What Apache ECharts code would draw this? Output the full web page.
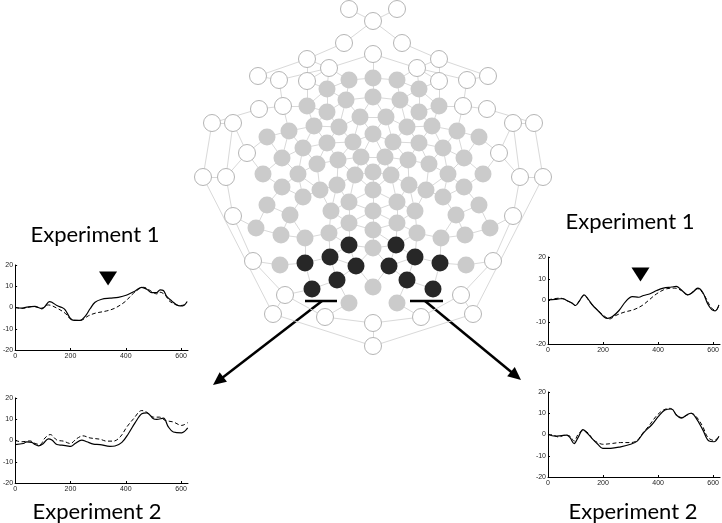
<!DOCTYPE html>
<html><head><meta charset="utf-8">
<script src="https://cdn.jsdelivr.net/npm/echarts@6/dist/echarts.min.js"></script>
<style>html,body{margin:0;padding:0;background:#fff}#c{width:722px;height:523px}</style>
</head><body><div id="c"></div>
<script>
// ---------- electrode map (image-pixel coordinates) ----------
const openX = [349,397,373,344,402,373,307,439,329,417,258,488,279,467,307,439,259,487,283,463,212,534,233,513,247,499,203,543,226,520,233,513,253,493,285,461,273,473,325,421,373,373];
const openY = [9,9,21,43,43,54,59,59,68,68,76,76,80,80,81,81,109,109,106,106,123,123,123,123,153,153,177,177,177,177,216,216,261,261,295,295,314,314,317,317,323,346];
const grayX = [349,373,397,327,419,346,373,400,307,439,327,419,360,386,
  267,289,314,339,373,407,432,457,479,282,303,327,353,393,419,443,464,
  317,338,361,385,408,429,263,298,355,373,391,448,483,337,409,
  282,320,373,426,464,303,443,349,397,267,479,331,373,415,290,456,
  349,397,256,490,373,329,417,281,465,305,441,373,280,466,373,349,397];
const grayY = [80,78,80,89,89,100,97,100,106,106,112,112,117,117,
  137,131,126,127,134,127,126,131,137,158,148,143,142,142,143,148,158,
  164,160,157,157,160,164,174,174,175,172,175,174,174,185,185,
  187,190,190,190,187,197,197,202,202,205,205,211,211,211,215,215,
  223,223,228,228,230,233,233,235,235,238,238,248,265,265,287,303,303];
const darkX = [349,396,305,330,356,389,415,440,337,407,312,433];
const darkY = [245,245,263,257,266,266,257,263,280,280,289,289];
// outline chains (indices into the open-electrode arrays)
const openChains = [[20,26,36,41,37,27,21],[22,28,30,32,34,38,40,39,35,33,31,29,23],[10,6,3,2,4,7,11],[12,8,5,9,13],[20,16],[21,17],[22,24,28],[23,25,29]];

// ---------- ERP waveforms [ms, µV] ----------
const exp1LeftSolid = [[0,0],[24,-0.3],[42,0.2],[72,0.5],[84,0],[96,-0.6],[108,0.5],[124,2.8],[133,2.5],[151,0.9],[169,0],[181,-1.1],[199,-5],[213,-6.1],[235,-6.1],[253,-4.2],[271,-0.6],[289,2.5],[313,3.9],[343,4.4],[373,4.8],[404,5.9],[434,7.8],[458,9.5],[476,8.6],[494,7],[512,7],[524,8.3],[536,8],[548,5.2],[566,3.1],[590,0.9],[606,0.8],[622,2.8]];
const exp1LeftDashed = [[0,0],[24,-0.4],[66,0.5],[84,0],[96,-0.3],[120,1.2],[151,-0.3],[181,-2.7],[205,-5.8],[235,-6.1],[265,-3.9],[289,-2.7],[331,-1.6],[361,-0.3],[398,2.8],[428,6.7],[464,9.5],[494,7.5],[512,6.4],[524,7.2],[542,5.9],[560,2.8],[596,0.9],[622,1.6]];
const exp2LeftSolid = [[0,-1.9],[30,-1.4],[42,-0.6],[60,-0.9],[72,-1.9],[84,-2.5],[102,-1.4],[120,0.8],[133,0.2],[151,-1.9],[169,-2.2],[187,-2.5],[201,-2.8],[217,-1.4],[241,0.2],[259,-0.6],[283,-1.7],[307,-1.9],[343,-2.8],[361,-2.6],[386,-0.9],[410,3.3],[434,8.4],[458,12.6],[476,13],[500,10.2],[512,9.9],[536,10.5],[554,6.4],[572,4],[602,3.6],[624,5.9]];
const exp2LeftDashed = [[0,0],[24,-0.6],[54,-0.2],[72,-1.4],[90,-1.9],[108,1.2],[127,2.8],[151,0.2],[175,-0.3],[199,-1.4],[223,0.9],[245,2.2],[271,1.2],[307,0.6],[331,-0.3],[355,-0.3],[380,1.7],[404,6.4],[428,10.2],[458,14.1],[476,13.3],[500,11],[522,11],[542,9.5],[572,8.7],[602,7.1],[624,8.4]];
const exp1RightSolid = [[0,0.3],[26,0.5],[44,0.8],[56,0.8],[68,0],[86,-1.1],[100,-2.3],[115,0],[131,2.6],[145,0.8],[163,-2.3],[181,-4.6],[205,-7.7],[217,-8.2],[234,-7.4],[258,-4.6],[282,-0.5],[306,1.8],[330,1.5],[347,2.3],[371,3.1],[395,4.6],[419,5.7],[449,6.2],[466,6.5],[484,4.9],[508,2.6],[526,3.8],[544,5.7],[562,3.8],[580,-1.5],[595,-4.2],[607,-4.8],[621,-2]];
const exp1RightDashed = [[0,0.3],[44,1.1],[68,0],[86,-1.1],[100,-2.3],[115,0],[131,2.3],[157,-1.5],[181,-4.6],[205,-7.2],[223,-8.5],[246,-6.9],[276,-5.4],[312,-4.2],[342,-2.3],[365,0],[395,3.1],[431,5.4],[461,5.7],[484,4.6],[508,2.6],[532,4.6],[544,5.4],[568,2.3],[592,-3.1],[609,-4.6],[621,-2.3]];
const exp2RightSolid = [[0,0],[26,-0.8],[50,-0.5],[68,-0.3],[80,-1.5],[95,-4.3],[109,-1.5],[127,2.3],[145,0.3],[163,-2.3],[181,-4.6],[199,-6.5],[228,-6.5],[264,-5.8],[300,-4.6],[324,-3.1],[347,0.8],[377,4.6],[401,8.5],[425,11.5],[449,12],[466,9.2],[484,7.7],[508,9.5],[520,10],[538,7.7],[562,2.3],[585,-3.1],[603,-3.4],[621,-0.8]];
const exp2RightDashed = [[0,0],[20,-0.3],[38,-1.2],[62,-0.3],[80,-0.8],[95,-3.1],[109,0],[127,1.8],[145,0.8],[163,-2.3],[181,-3.8],[199,-4.6],[228,-4.3],[264,-3.8],[300,-3.8],[324,-2.8],[342,0.3],[365,3.8],[395,8.9],[419,11.5],[443,12.3],[466,9.5],[484,8],[502,8.9],[520,10],[538,8.5],[562,3.8],[580,-1.2],[603,-2.8],[621,-1.2]];
const markerLeft = [[336,13.7]];
const markerRight = [[336,12]];
const xTicks = [0,200,400,600];
const yTicks = [-20,-10,0,10,20];

// ---------- build ----------
const allPts = [];
openX.forEach((x,i)=>allPts.push([x,openY[i]]));
grayX.forEach((x,i)=>allPts.push([x,grayY[i]]));
darkX.forEach((x,i)=>allPts.push([x,darkY[i]]));
const links = [];
for (let i=0;i<allPts.length;i++) for (let j=i+1;j<allPts.length;j++){
  const dx=allPts[i][0]-allPts[j][0], dy=allPts[i][1]-allPts[j][1];
  if (Math.hypot(dx,dy) <= 28) links.push({coords:[allPts[i],allPts[j]]});
}
openChains.forEach(ch=>{ for(let k=0;k<ch.length-1;k++) links.push({coords:[allPts[ch[k]],allPts[ch[k+1]]]}); });

const chart = echarts.init(document.getElementById('c'));
const font = 'Liberation Sans';
function xAx(g){return {type:'value',gridIndex:g,min:0,max:625,
  axisLine:{onZero:false,lineStyle:{color:'#000',width:1}},
  axisTick:{inside:true,length:2,customValues:xTicks,lineStyle:{color:'#000'}},
  axisLabel:{customValues:xTicks,fontSize:7,color:'#222',margin:3,fontFamily:font},
  splitLine:{show:false}};}
function yAx(g){return {type:'value',gridIndex:g,min:-20,max:20,interval:10,
  axisLine:{show:true,onZero:false,lineStyle:{color:'#000',width:1}},
  axisTick:{show:true,inside:true,length:2,lineStyle:{color:'#000'}},
  axisLabel:{fontSize:7,color:'#222',margin:2,fontFamily:font},
  splitLine:{show:false}};}
function wave(g,data,dashed){return {type:'line',xAxisIndex:g,yAxisIndex:g,data:data,showSymbol:false,smooth:0.35,silent:true,
  lineStyle:{color:'#000',width:dashed?1:1.2,type:dashed?[4,2.5]:'solid'},z:3};}
function marker(g,data){return {type:'scatter',xAxisIndex:g,yAxisIndex:g,data:data,symbol:'triangle',symbolRotate:180,symbolSize:[18,14],itemStyle:{color:'#000',opacity:1},silent:true,z:4};}

function arrow(x1,y1,x2,y2){
  const dx=x2-x1, dy=y2-y1, L=Math.hypot(dx,dy), ux=dx/L, uy=dy/L;
  const hl=13, hw=6, bx=x2-hl*ux, by=y2-hl*uy;
  return [
    {type:'line',shape:{x1:x1,y1:y1,x2:bx+ux*2,y2:by+uy*2},style:{stroke:'#000',lineWidth:2.5}},
    {type:'polygon',shape:{points:[[x2,y2],[bx-hw*uy,by+hw*ux],[bx+hw*uy,by-hw*ux]]},style:{fill:'#000'}}
  ];
}
const textStyle = (t)=>({text:t,fontSize:22,fontFamily:'Lato',fill:'#000',align:'center',verticalAlign:'middle'});

chart.setOption({
  animation:false,
  backgroundColor:'#fff',
  grid:[
    {left:0,top:0,width:722,height:523},
    {left:15,top:265,width:173,height:85},
    {left:15,top:398,width:173,height:85},
    {left:548,top:257,width:175,height:87},
    {left:548,top:392,width:175,height:85}
  ],
  xAxis:[{type:'value',gridIndex:0,min:0,max:722,show:false},xAx(1),xAx(2),xAx(3),xAx(4)],
  yAxis:[{type:'value',gridIndex:0,min:0,max:523,inverse:true,show:false},yAx(1),yAx(2),yAx(3),yAx(4)],
  series:[
    {type:'lines',coordinateSystem:'cartesian2d',xAxisIndex:0,yAxisIndex:0,data:links,silent:true,
      lineStyle:{color:'#d9d9d9',width:1,opacity:1},z:1},
    {type:'scatter',xAxisIndex:0,yAxisIndex:0,data:openX.map((x,i)=>[x,openY[i]]),symbolSize:17,silent:true,
      itemStyle:{color:'#fff',borderColor:'#b5b5b5',borderWidth:1,opacity:1},z:2},
    {type:'scatter',xAxisIndex:0,yAxisIndex:0,data:grayX.map((x,i)=>[x,grayY[i]]),symbolSize:17,silent:true,
      itemStyle:{color:'#cbcbcb',opacity:1},z:2},
    {type:'scatter',xAxisIndex:0,yAxisIndex:0,data:darkX.map((x,i)=>[x,darkY[i]]),symbolSize:17,silent:true,
      itemStyle:{color:'#272727',opacity:1},z:2},
    wave(1,exp1LeftDashed,true), wave(1,exp1LeftSolid,false), marker(1,markerLeft),
    wave(2,exp2LeftDashed,true), wave(2,exp2LeftSolid,false),
    wave(3,exp1RightDashed,true), wave(3,exp1RightSolid,false), marker(3,markerRight),
    wave(4,exp2RightDashed,true), wave(4,exp2RightSolid,false)
  ],
  graphic:[
    {type:'line',shape:{x1:305,y1:301,x2:337,y2:301},style:{stroke:'#000',lineWidth:2.5},z:10},
    {type:'line',shape:{x1:410,y1:301,x2:443,y2:301},style:{stroke:'#000',lineWidth:2.5},z:10},
    ...arrow(322,301,213,385),
    ...arrow(425,301,521,380),
    {type:'text',x:95,y:235,style:textStyle('Experiment 1')},
    {type:'text',x:97,y:512,style:textStyle('Experiment 2')},
    {type:'text',x:630,y:222,style:textStyle('Experiment 1')},
    {type:'text',x:633,y:512,style:textStyle('Experiment 2')}
  ]
});
</script></body></html>
